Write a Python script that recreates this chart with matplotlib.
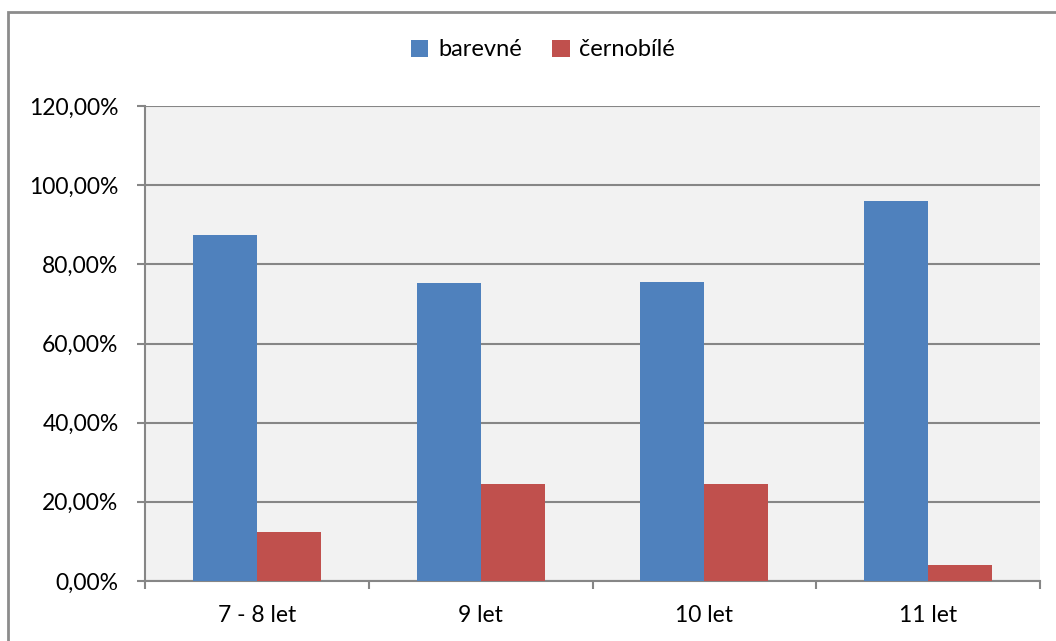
import matplotlib
matplotlib.use("Agg")
import matplotlib.pyplot as plt
import numpy as np
from matplotlib.ticker import FuncFormatter
from matplotlib.patches import Rectangle

categories = ["7 - 8 let", "9 let", "10 let", "11 let"]
barevne = [87.5, 75.4, 75.6, 96.0]
cernobile = [12.5, 24.6, 24.4, 4.0]
series_names = ["barevné", "černobílé"]
colors = ["#4F81BD", "#C0504D"]

plt.rcParams["font.family"] = ["Lato", "DejaVu Sans"]

fig = plt.figure(figsize=(10.56, 6.41), dpi=100)
fig.patch.set_facecolor("white")

# outer chart border (left and top visible)
fig.add_artist(Rectangle((8 / 1056, -0.05), 1.2, 1 - 12 / 641 + 0.05,
                         transform=fig.transFigure, fill=False,
                         edgecolor="#8C8C8C", linewidth=2.0))

ax = fig.add_axes([145 / 1056, 1 - 581 / 641, (1040 - 145) / 1056, (581 - 106) / 641])
ax.set_facecolor("#F2F2F2")

x = np.arange(len(categories))
w = 0.2857
ax.bar(x - w / 2, barevne, width=w, color=colors[0], label=series_names[0], zorder=3)
ax.bar(x + w / 2, cernobile, width=w, color=colors[1], label=series_names[1], zorder=3)

ax.set_xlim(-0.5, len(categories) - 0.5)
ax.set_ylim(0, 120)
ax.set_yticks(np.arange(0, 121, 20))
ax.yaxis.set_major_formatter(FuncFormatter(lambda v, p: f"{v:.2f}".replace(".", ",") + "%"))
ax.grid(axis="y", color="#868686", linewidth=1.5, zorder=1)
ax.set_axisbelow(True)

ax.set_xticks(np.arange(-0.5, len(categories), 1.0), minor=False)
ax.set_xticklabels([])
ax.set_xticks(x, minor=True)
ax.set_xticklabels(categories, minor=True)
ax.tick_params(axis="x", which="minor", length=0, pad=17, labelsize=16.5)
ax.tick_params(axis="x", which="major", length=6, width=1.5, color="#868686", direction="out")
ax.tick_params(axis="y", length=6, width=1.5, color="#868686", pad=13, labelsize=16.5)

for s in ["top", "right"]:
    ax.spines[s].set_visible(False)
for s in ["left", "bottom"]:
    ax.spines[s].set_color("#868686")
    ax.spines[s].set_linewidth(1.5)

leg = fig.legend(loc="center", bbox_to_anchor=(543 / 1056, 1 - 50 / 641), ncol=2,
                 frameon=False, fontsize=17, handlelength=0.75, handleheight=0.75,
                 handletextpad=0.4, columnspacing=1.3)

fig.savefig("out.png", dpi=100, facecolor="white")
